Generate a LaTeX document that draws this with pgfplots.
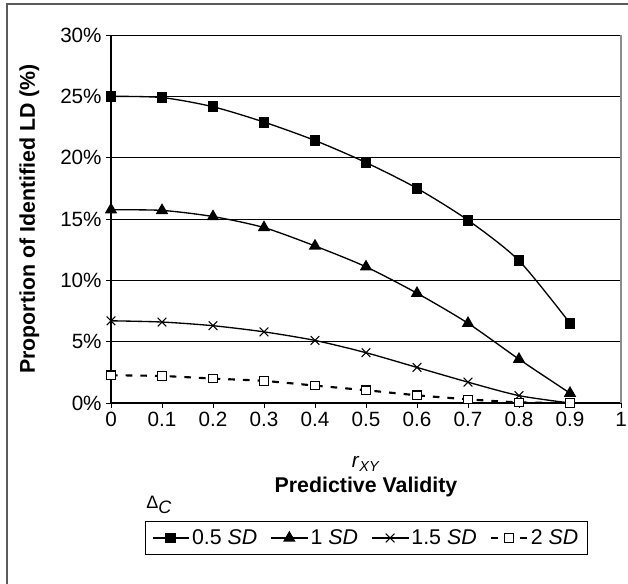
\documentclass[border=0pt]{standalone}
\usepackage{fontspec}
\setmainfont{Liberation Sans}
\usepackage{pgfplots}
\pgfplotsset{compat=1.18}
\definecolor{framegrey}{HTML}{5A5A5A}
\definecolor{bordergrey}{HTML}{8C8C8C}

\begin{document}
\begin{tikzpicture}[font=\fontsize{15.5}{18}\selectfont]
\begin{axis}[
  scale only axis, width=382.5pt, height=276pt,
  xmin=0, xmax=1, ymin=0, ymax=30,
  axis x line*=bottom, axis y line*=left,
  axis line style={-, black, line width=0.8pt},
  xtick={0,0.1,0.2,0.3,0.4,0.5,0.6,0.7,0.8,0.9,1},
  xticklabels={0,0.1,0.2,0.3,0.4,0.5,0.6,0.7,0.8,0.9,1},
  ytick={0,5,10,15,20,25,30},
  yticklabels={0\%,5\%,10\%,15\%,20\%,25\%,30\%},
  tick align=outside, major tick length=3.5pt,
  tick style={black, line width=0.7pt},
  ymajorgrids, major grid style={black, line width=0.6pt},
  legend columns=4,
  legend style={at={(0.501,-0.3207)}, anchor=north, draw=black,
    line width=0.8pt, font=\fontsize{16}{18}\selectfont,
    inner xsep=5pt, inner ysep=4pt,
    /tikz/every even column/.append style={column sep=8pt}},
  legend cell align=left,
  legend image code/.code={
    \draw[mark repeat=2, mark phase=2] plot coordinates {(0pt,0pt) (13.5pt,0pt) (27pt,0pt)};},
]

\addplot[black, line width=1pt, smooth, tension=0.45, mark=square*, mark size=3.6pt,
  mark options={solid}]
  coordinates {(0,25.0) (0.1,24.9) (0.2,24.15) (0.3,22.9) (0.4,21.4)
               (0.5,19.6) (0.6,17.5) (0.7,14.9) (0.8,11.6) (0.9,6.5)};
\addlegendentry{0.5 \textit{SD}}

\addplot[black, line width=1pt, smooth, tension=0.45, mark=triangle*, mark size=4.4pt,
  mark options={solid}]
  coordinates {(0,15.75) (0.1,15.7) (0.2,15.2) (0.3,14.3) (0.4,12.8)
               (0.5,11.1) (0.6,8.95) (0.7,6.5) (0.8,3.57) (0.9,0.8)};
\addlegendentry{1 \textit{SD}}

\addplot[black, line width=1pt, smooth, tension=0.45, mark=x, mark size=4.6pt,
  mark options={solid, line width=0.8pt}]
  coordinates {(0,6.7) (0.1,6.6) (0.2,6.3) (0.3,5.8) (0.4,5.1)
               (0.5,4.1) (0.6,2.9) (0.7,1.7) (0.8,0.6) (0.9,0)};
\addlegendentry{1.5 \textit{SD}}

\addplot[black, line width=1.6pt, dash pattern=on 5pt off 6pt, smooth, tension=0.45,
  mark=square*, mark size=3.2pt,
  mark options={solid, fill=white, draw=black, line width=0.8pt}]
  coordinates {(0,2.26) (0.1,2.2) (0.2,1.99) (0.3,1.8) (0.4,1.42)
               (0.5,1.04) (0.6,0.63) (0.7,0.3) (0.8,0.05) (0.9,0)};
\addlegendentry{2 \textit{SD}}

\end{axis}

% grey right border of the plot area
\draw[bordergrey, line width=1pt] (382.5pt,0pt) -- (382.5pt,276pt);

% axis titles
\node[rotate=90, anchor=base, font=\fontsize{16}{18}\selectfont\bfseries]
  at (-57pt,138pt) {Proportion of Identified LD (\%)};
\node[anchor=base] at (191.25pt,-48.75pt) {\textit{r}\textsubscript{\textit{XY}}};
\node[anchor=base, font=\fontsize{16}{18}\selectfont\bfseries]
  at (191.25pt,-67.5pt) {Predictive Validity};
\node[anchor=base west, inner sep=0pt, font=\fontsize{13.5}{15}\selectfont]
  at (26.25pt,-79.5pt) {Δ\raisebox{-3.5pt}{\textit{C}}};

% outer frame (cut at right and bottom)
\draw[framegrey, line width=1.5pt] (-78pt,-150pt) -- (-78pt,299.25pt) -- (400pt,299.25pt);

\pgfresetboundingbox
\path[use as bounding box] (-83.25pt,-135.75pt) rectangle (387.75pt,302.25pt);
\end{tikzpicture}
\end{document}
